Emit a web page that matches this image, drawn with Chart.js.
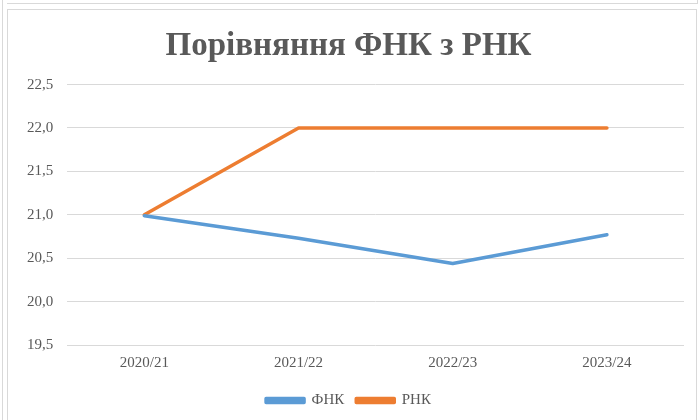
<!DOCTYPE html>
<html>
<head>
<meta charset="utf-8">
<script src="https://cdn.jsdelivr.net/npm/chart.js@4/dist/chart.umd.min.js"></script>
<style>
  html, body { margin: 0; padding: 0; background: #ffffff; }
  body { width: 700px; height: 420px; position: relative; overflow: hidden; }
  .frameLeft { position: absolute; left: 2px; top: 0; width: 0; height: 420px; border-left: 1px solid #d9d9d9; }
  .frameTop { position: absolute; left: 7px; top: 0; width: 690px; height: 3px; border-bottom: 1px solid #d9d9d9; border-right: 1px solid #d9d9d9; }
  #box { position: absolute; left: 7px; top: 9px; width: 690px; height: 420px; border: 1px solid #d9d9d9; box-sizing: border-box; }
  #wrap { position: absolute; left: 0; top: 0; width: 688px; height: 410px; }
</style>
</head>
<body>
<div class="frameLeft"></div>
<div class="frameTop"></div>
<div id="box"><div id="wrap"><canvas id="c"></canvas></div></div>
<script>
const categories = ["2020/21", "2021/22", "2022/23", "2023/24"];
const fnkValues = [20.99, 20.73, 20.44, 20.77];
const rnkValues = [21.0, 22.0, 22.0, 22.0];
const seriesNames = ["ФНК", "РНК"];
const titleText = "Порівняння ФНК з РНК";

const serif = "'Liberation Serif', 'Times New Roman', serif";

new Chart(document.getElementById('c'), {
  type: 'line',
  data: {
    labels: categories,
    datasets: [
      { label: seriesNames[0], data: fnkValues, borderColor: '#5B9BD5', backgroundColor: '#5B9BD5',
        borderWidth: 3.5, pointRadius: 0, tension: 0, borderCapStyle: 'round', borderJoinStyle: 'round' },
      { label: seriesNames[1], data: rnkValues, borderColor: '#ED7D31', backgroundColor: '#ED7D31',
        borderWidth: 3.5, pointRadius: 0, tension: 0, borderCapStyle: 'round', borderJoinStyle: 'round' }
    ]
  },
  options: {
    responsive: true,
    maintainAspectRatio: false,
    animation: false,
    layout: { padding: { left: 5, right: 12, top: 17, bottom: 2 } },
    plugins: {
      title: {
        display: true, text: titleText, color: '#595959',
        font: { family: serif, size: 33, weight: 'bold' },
        padding: { top: 0, bottom: 18 }
      },
      legend: {
        position: 'bottom',
        labels: {
          color: '#595959', font: { family: serif, size: 15 },
          boxWidth: 38, boxHeight: 4, padding: 12
        }
      },
      tooltip: { enabled: false }
    },
    scales: {
      x: {
        offset: true,
        grid: { display: false, drawTicks: false },
        border: { display: false },
        ticks: { color: '#595959', font: { family: serif, size: 15 }, padding: 9 }
      },
      y: {
        min: 19.5, max: 22.5,
        grid: { color: '#d9d9d9', lineWidth: 1, drawTicks: false },
        border: { display: false },
        ticks: {
          stepSize: 0.5, color: '#595959', font: { family: serif, size: 15 }, padding: 14,
          callback: v => v.toFixed(1).replace('.', ',')
        }
      }
    }
  }
});
</script>
</body>
</html>
